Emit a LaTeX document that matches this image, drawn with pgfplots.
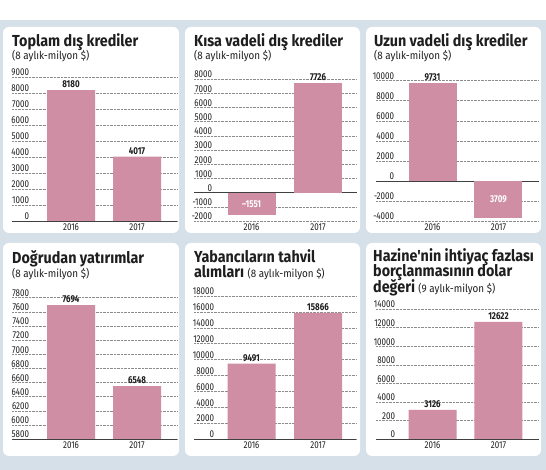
\documentclass[border=0pt]{standalone}
\usepackage{fontspec}
\setmainfont{Fira Sans}[FakeStretch=0.8]
\newfontfamily\tfam{Fira Sans}[FakeStretch=0.9]
\usepackage{pgfplots}
\pgfplotsset{compat=1.18}

\definecolor{bgc}{RGB}{214,224,232}
\definecolor{barc}{RGB}{207,142,163}
\definecolor{txt}{RGB}{30,30,30}

\newcommand\titlef{\tfam\bfseries\fontsize{16}{15}\selectfont}
\newcommand\subf{\tfam\mdseries\fontsize{11}{12}\selectfont}

\pgfplotsset{
  panel/.style={
    scale only axis, anchor=south west, clip=false,
    axis line style={draw=none},
    major tick length=0pt,
    scaled y ticks=false,
    xtick={0,1}, xticklabels={2016,2017},
    ymajorgrids,
    major grid style={densely dotted, black!45, line width=0.4pt},
    yticklabel style={anchor=south east, inner sep=0.8pt,
      font=\fontsize{10}{10}\selectfont, text=txt},
    xticklabel style={font=\fontsize{10}{10}\selectfont, text=txt, inner sep=2.5pt},
    /pgf/number format/1000 sep={},
    /pgf/number format/assume math mode=true,
    point meta=explicit symbolic,
    every node near coord/.style={font=\bfseries\fontsize{10}{10}\selectfont,
      text=txt, inner sep=2pt},
    extra y tick labels={},
    extra y tick style={grid=major,
      major grid style={solid, black!75, line width=0.7pt}},
  },
  barp/.style={ybar, bar shift=0pt, bar width=48bp, fill=barc, draw=none},
}
\tikzset{
  neglab/.style={text=white, font=\bfseries\fontsize{10}{10}\selectfont},
  ttl/.style={anchor=base west, inner sep=0pt, text=txt, font=\titlef},
  sub/.style={anchor=base west, inner sep=0pt, text=txt, font=\subf},
}

\begin{document}
\begin{tikzpicture}[x=1bp,y=1bp]
% background and panels
\fill[white] (0,0) rectangle (546,470);
\fill[bgc] (0,0) rectangle (546,450);
\foreach \xa/\xb in {3/179,185/360,366/541}{
  \fill[white, rounded corners=6bp] (\xa,237) rectangle (\xb,443);
  \fill[white, rounded corners=6bp] (\xa,14) rectangle (\xb,227);
}

% ---- top row ----
\begin{axis}[panel, at={(12bp,249bp)}, width=165bp, height=144bp,
    xmin=-0.894, xmax=1.606, ymin=0, ymax=9000,
    ytick={0,1000,...,9000}, yticklabel style={xshift=18bp},
    extra y ticks={0}]
  \addplot[barp, nodes near coords] coordinates {(0,8180) [8180] (1,4017) [4017]};
\end{axis}
\node[ttl] at (12,423) {Toplam dış krediler};
\node[sub] at (12,410) {(8 aylık-milyon \$)};

\begin{axis}[panel, at={(194bp,249bp)}, width=163bp, height=142bp,
    xmin=-0.865, xmax=1.586, ymin=-2000, ymax=8000,
    ytick={-2000,-1000,...,8000}, yticklabel style={xshift=19bp},
    extra y ticks={0}]
  \addplot[barp, nodes near coords] coordinates {(1,7726) [7726]};
  \addplot[barp] coordinates {(0,-1551)};
  \node[neglab] at (axis cs:0,-820) {–1551};
\end{axis}
\node[ttl] at (194,423) {Kısa vadeli dış krediler};
\node[sub] at (194,410) {(8 aylık-milyon \$)};

\begin{axis}[panel, at={(376bp,249bp)}, width=163bp, height=140.4bp,
    xmin=-0.856, xmax=1.614, ymin=-4000, ymax=10000,
    ytick={-4000,-2000,...,10000}, yticklabel style={xshift=19bp},
    extra y ticks={0}]
  \addplot[barp, nodes near coords] coordinates {(0,9731) [9731]};
  \addplot[barp] coordinates {(1,-3709)};
  \node[neglab] at (axis cs:1,-1850) {3709};
\end{axis}
\node[ttl] at (374,423) {Uzun vadeli dış krediler};
\node[sub] at (374,410) {(8 aylık-milyon \$)};

% ---- bottom row ----
\begin{axis}[panel, at={(12bp,31bp)}, width=165bp, height=141.3bp,
    xmin=-0.894, xmax=1.606, ymin=5800, ymax=7800,
    ytick={5800,6000,...,7800}, yticklabel style={xshift=18bp},
    extra y ticks={5800}]
  \addplot[barp, nodes near coords] coordinates {(0,7694) [7694] (1,6548) [6548]};
\end{axis}
\node[ttl] at (12,206) {Doğrudan yatırımlar};
\node[sub] at (12,192) {(8 aylık-milyon \$)};

\begin{axis}[panel, at={(194bp,31bp)}, width=162bp, height=143bp,
    xmin=-0.865, xmax=1.571, ymin=0, ymax=18000,
    ytick={0,2000,...,18000}, yticklabel style={xshift=21bp},
    extra y ticks={0}]
  \addplot[barp, nodes near coords] coordinates {(0,9491) [9491] (1,15866) [15866]};
\end{axis}
\node[ttl] at (194,207) {Yabancıların tahvil};
\node[ttl] at (194,192) {alımları {\subf (8 aylık-milyon \$)}};

\begin{axis}[panel, at={(376bp,31bp)}, width=163bp, height=130bp,
    xmin=-0.856, xmax=1.614, ymin=0, ymax=14000,
    ytick={0,2000,...,14000},
    yticklabels={0,200,4000,6000,8000,10000,12000,14000},
    yticklabel style={xshift=20bp},
    extra y ticks={0}]
  \addplot[barp, nodes near coords] coordinates {(0,3126) [3126] (1,12622) [12622]};
\end{axis}
\node[ttl] at (373,208.5) {Hazine'nin ihtiyaç fazlası};
\node[ttl] at (373,193) {borçlanmasının dolar};
\node[ttl] at (373,177.5) {değeri {\subf (9 aylık-milyon \$)}};
\end{tikzpicture}
\end{document}
